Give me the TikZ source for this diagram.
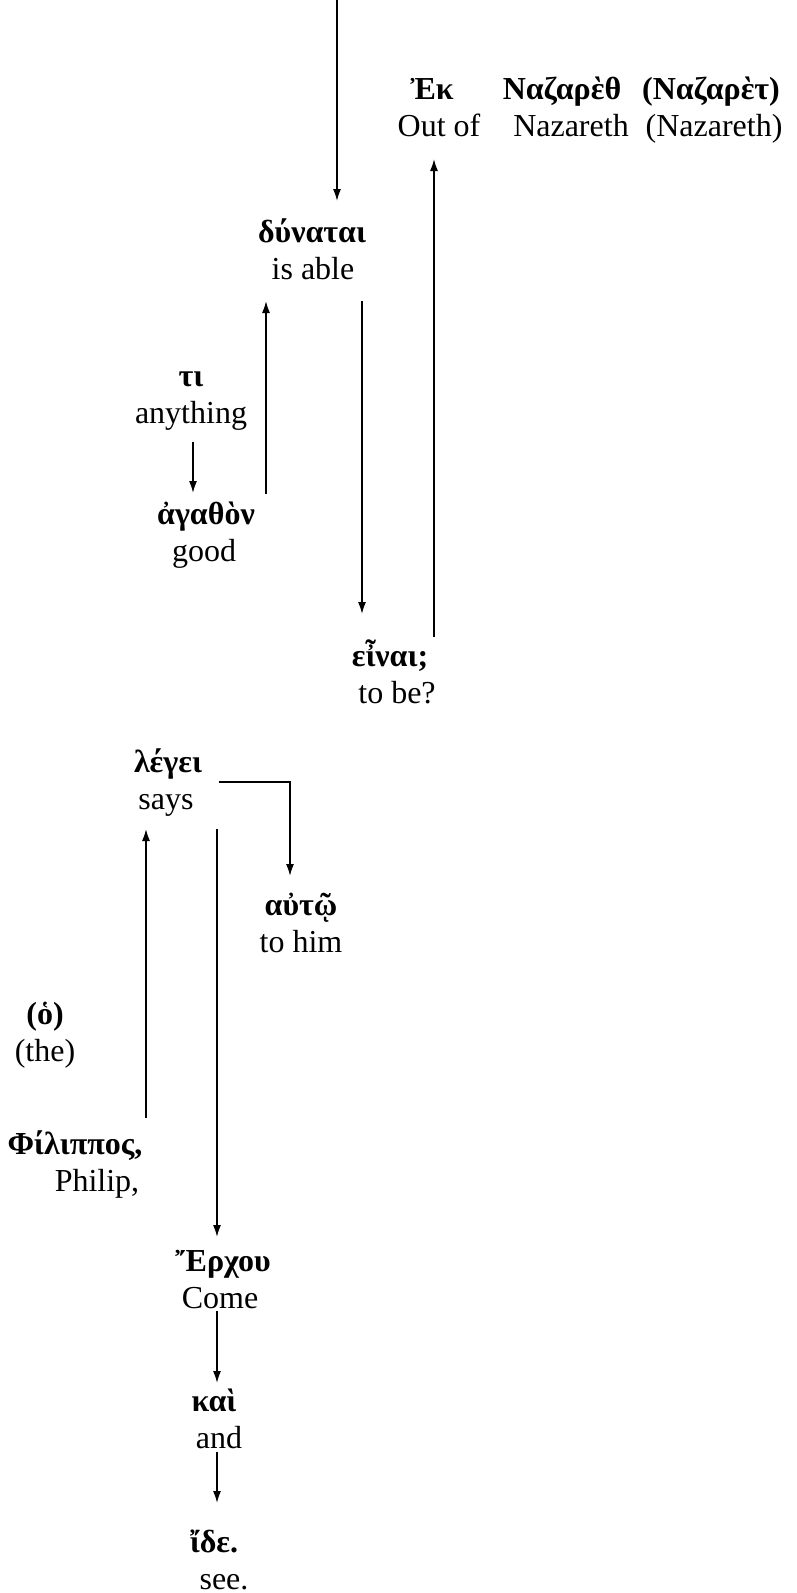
\documentclass[tikz,border=0pt]{standalone}
\usepackage{fontspec}
\setmainfont{Liberation Serif}
\usepackage{tikz}
\usetikzlibrary{arrows.meta, positioning, calc}

\begin{document}
\begin{tikzpicture}[
    x=1pt, y=-1pt,
    >={Latex[length=12pt,width=8pt]},
    line width=1.6pt,
    greek/.style={anchor=base, inner sep=0pt, font=\fontsize{32}{36}\selectfont\bfseries},
    gloss/.style={anchor=base, inner sep=0pt, font=\fontsize{32}{36}\selectfont}
]
    \useasboundingbox (0,0) rectangle (797,1593);
    % --- 1. Words (Greek line, gloss under it) ---
    \node[greek] (ek) at (432,99) {Ἐκ};
    \node[gloss] (ek-en) at (439,136) {Out of};
    \node[greek] (naz) at (562,99) {Ναζαρὲθ};
    \node[gloss] (naz-en) at (571,136) {Nazareth};
    \node[greek] (nazt) at (711,99) {(Ναζαρὲτ)};
    \node[gloss] (nazt-en) at (714,136) {(Nazareth)};
    \node[greek] (dunatai) at (312,242) {δύναται};
    \node[gloss] (dunatai-en) at (313,279) {is able};
    \node[greek] (ti) at (191,386) {τι};
    \node[gloss] (ti-en) at (191,423) {anything};
    \node[greek] (agathon) at (206,524) {ἀγαθὸν};
    \node[gloss] (agathon-en) at (204,561) {good};
    \node[greek] (einai) at (390,666) {εἶναι;};
    \node[gloss] (einai-en) at (397,703) {to be?};
    \node[greek] (legei) at (168,772) {λέγει};
    \node[gloss] (legei-en) at (166,809) {says};
    \node[greek] (autw) at (301,915) {αὐτῷ};
    \node[gloss] (autw-en) at (301,952) {to him};
    \node[greek] (ho) at (45,1024) {(ὁ)};
    \node[gloss] (ho-en) at (45,1061) {(the)};
    \node[greek] (filippos) at (75,1154) {Φίλιππος,};
    \node[gloss] (filippos-en) at (97,1191) {Philip,};
    \node[greek] (erchou) at (223,1271) {Ἔρχου};
    \node[gloss] (erchou-en) at (220,1308) {Come};
    \node[greek] (kai) at (214,1411) {καὶ};
    \node[gloss] (kai-en) at (219,1448) {and};
    \node[greek] (ide) at (214,1552) {ἴδε.};
    \node[gloss] (ide-en) at (224,1589) {see.};
    % --- 2. Arrows ---
    \coordinate (top) at (337,0);
    \draw[->] (top) -- ([shift={(25,-41)}]dunatai.base);
    \draw[->] ([shift={(44,-29)}]einai.base) -- ([shift={(-5,23)}]ek-en.base);
    \draw[->] ([shift={(49,22)}]dunatai-en.base) -- ([shift={(-28,-52)}]einai.base);
    \draw[->] ([shift={(60,-30)}]agathon.base) -- ([shift={(-47,22)}]dunatai-en.base);
    \draw[->] ([shift={(2,19)}]ti-en.base) -- ([shift={(-13,-31)}]agathon.base);
    \draw[->] ([shift={(51,10)}]legei.base) -| ([shift={(-11,-39)}]autw.base);
    \draw[->] ([shift={(71,-36)}]filippos.base) -- ([shift={(-20,20)}]legei-en.base);
    \draw[->] ([shift={(51,20)}]legei-en.base) -- ([shift={(-6,-34)}]erchou.base);
    \draw[->] ([shift={(-3,3)}]erchou-en.base) -- ([shift={(3,-28)}]kai.base);
    \draw[->] ([shift={(-2,4)}]kai-en.base) -- ([shift={(3,-49)}]ide.base);
\end{tikzpicture}
\end{document}
